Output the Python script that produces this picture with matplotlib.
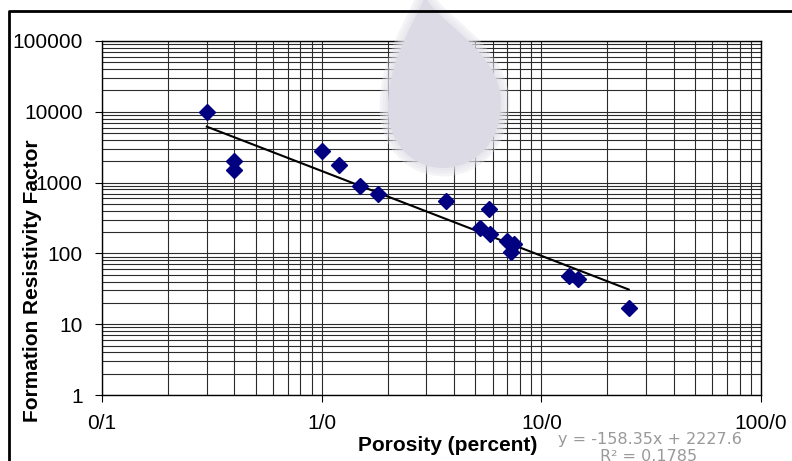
import numpy as np
import matplotlib.pyplot as plt
from matplotlib.path import Path
from matplotlib.patches import PathPatch
from matplotlib.lines import Line2D

plt.rcParams['font.family'] = ['Liberation Sans', 'DejaVu Sans']

# porosity (percent) and formation resistivity factor
porosity = [0.3, 0.4, 0.4, 1.0, 1.2, 1.5, 1.8, 3.7, 5.25, 5.8, 5.85, 6.95, 7.5, 7.3, 13.4, 14.7, 25.0]
res_factor = [10000, 2000, 1500, 2800, 1800, 900, 700, 550, 230, 430, 190, 150, 135, 105, 48, 43, 17]

x_ticks = [0.1, 1, 10, 100]
x_labels = ['0/1', '1/0', '10/0', '100/0']
y_ticks = [1, 10, 100, 1000, 10000, 100000]
y_labels = ['1', '10', '100', '1000', '10000', '100000']

W, H = 792, 461
fig = plt.figure(figsize=(W / 100, H / 100), dpi=100)


def px(x, y):
    return (x / W, 1 - y / H)


# faded drop watermark behind the plot, soft edge from a few translucent strokes
verts = [px(425, -4),
         px(436, 22), px(503, 52), px(501, 105),
         px(500, 148), px(470, 168), px(443, 168),
         px(412, 168), px(387, 143), px(388, 105),
         px(389, 58), px(414, 24), px(425, -4)]
codes = [Path.MOVETO] + [Path.CURVE4] * 12
drop_path = Path(verts, codes)
for lw in [12, 8, 4]:
    fig.patches.append(PathPatch(drop_path, transform=fig.transFigure,
                                 facecolor='none', edgecolor='#e2e0e9',
                                 lw=lw, alpha=0.35, zorder=0))
fig.patches.append(PathPatch(drop_path, transform=fig.transFigure,
                             facecolor='#dcdae5', edgecolor='none', zorder=0))

# outer frame (left and top)
fig.add_artist(Line2D([9 / W, 9 / W, 1], [0, 1 - 11 / H, 1 - 11 / H],
                      transform=fig.transFigure, color='black', lw=2))

ax = fig.add_axes([102 / W, (H - 395) / H, 659 / W, 354 / H])
ax.set_facecolor('none')
ax.set_xscale('log')
ax.set_yscale('log')
ax.set_xlim(0.1, 100)
ax.set_ylim(1, 100000)

ax.grid(True, which='both', color='#2b2b2b', lw=0.8)
ax.set_axisbelow(True)

ax.set_xticks(x_ticks)
ax.set_xticklabels(x_labels)
ax.set_yticks(y_ticks)
ax.set_yticklabels(y_labels)
ax.tick_params(which='major', length=5, width=0.8, direction='out', labelsize=15, pad=9)
ax.tick_params(which='minor', length=0)
for s in ax.spines.values():
    s.set_color('black')
    s.set_linewidth(1)

ax.plot(porosity, res_factor, linestyle='none', marker='D', ms=8.5,
        color='#000080', zorder=4)

# power trendline
coef = np.polyfit(np.log10(porosity), np.log10(res_factor), 1)
xt = np.array([min(porosity), max(porosity)])
ax.plot(xt, 10 ** np.polyval(coef, np.log10(xt)), color='black', lw=1.5, zorder=3)

fig.text(33 / W, 1 - 281 / H, 'Formation Resistivity Factor', rotation=90,
         ha='center', va='center', fontsize=15, fontweight='bold')
fig.text(448 / W, 1 - 445 / H, 'Porosity (percent)', ha='center', va='center',
         fontsize=15, fontweight='bold')
fig.text(650 / W, 1 - 439 / H, 'y = -158.35x + 2227.6', ha='center', va='center',
         fontsize=11.5, color='#999999', family='DejaVu Sans')
fig.text(649 / W, 1 - 456 / H, 'R\u00b2 = 0.1785', ha='center', va='center',
         fontsize=11.5, color='#999999', family='DejaVu Sans')

fig.savefig('out.png', dpi=100)
